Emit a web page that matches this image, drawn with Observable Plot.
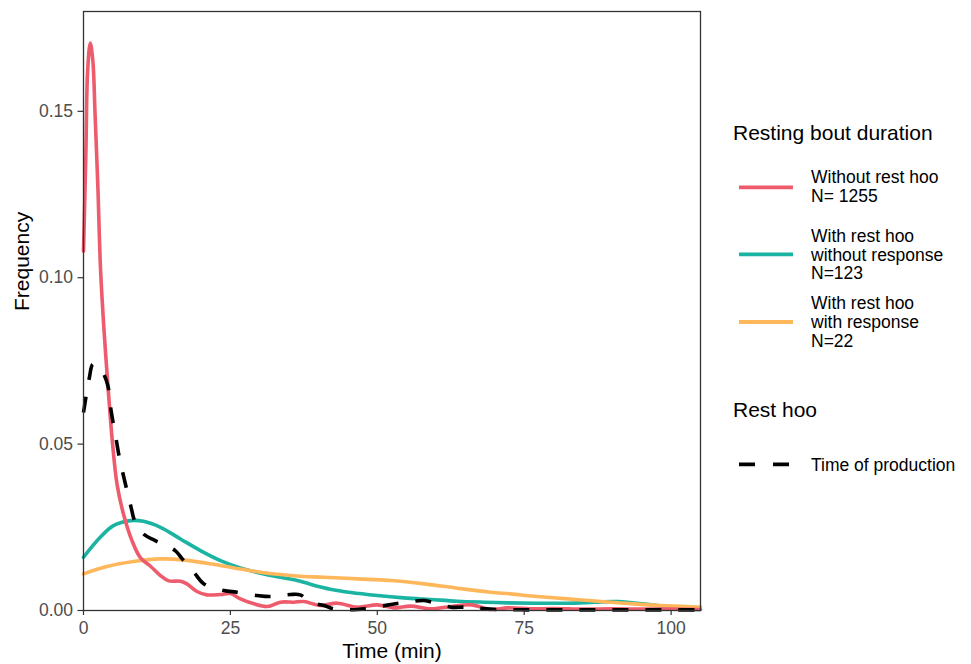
<!DOCTYPE html>
<html>
<head>
<meta charset="utf-8">
<script src="https://cdn.jsdelivr.net/npm/d3@7"></script>
<script src="https://cdn.jsdelivr.net/npm/@observablehq/plot@0.6"></script>
<style>
  body { margin: 0; background: #fff; }
  #wrap { position: relative; width: 971px; height: 664px; font-family: "Liberation Sans", Arial, sans-serif; }
  #legend { position: absolute; left: 0; top: 0; pointer-events: none; }
</style>
</head>
<body>
<div id="wrap"></div>
<script>
// ---- Data ----
const seriesNames = ["Without rest hoo\nN= 1255", "With rest hoo\nwithout response\nN=123", "With rest hoo\nwith response\nN=22"];
const seriesColors = ["#EE5B6C", "#1BB3A2", "#FFB75C"];
const restHooName = "Time of production";

const redT = [0, 0.4, 0.7, 1.15, 1.6, 1.95, 2.45, 2.9, 3.5, 4.1, 4.9, 5.7, 6.8, 8.25, 9.7, 11.4, 13.1, 14.5, 16.5, 17.6, 19.3, 21.0, 23.3, 25.0, 26.7, 29, 31.3, 33.5, 35.8, 37.5, 40.3, 43.2, 46.6, 50, 52.8, 55.7, 59.1, 62.5, 66, 69.3, 72.2, 76, 80, 85, 90, 95, 100, 105];
const redV = [0.108, 0.137, 0.162, 0.1705, 0.165, 0.150, 0.127, 0.1026, 0.084, 0.069, 0.051, 0.038, 0.029, 0.021, 0.0158, 0.0133, 0.0105, 0.0089, 0.0088, 0.008, 0.0057, 0.0047, 0.0048, 0.0051, 0.0035, 0.002, 0.0012, 0.0025, 0.0025, 0.0027, 0.0015, 0.0022, 0.001, 0.0017, 0.0008, 0.0013, 0.0005, 0.0012, 0.0017, 0.0003, 0.0008, 0.0005, 0.0006, 0.0004, 0.0005, 0.0004, 0.0004, 0.0003];

const tealT = [0, 2.85, 5.1, 8, 10.2, 13.1, 16.5, 19.9, 23.3, 26.7, 30.1, 33.5, 36.9, 38.6, 42, 45.5, 50, 54.5, 59.1, 63.6, 68.2, 72.2, 77, 82.4, 87, 90.9, 96.6, 102.3, 105];
const tealV = [0.016, 0.022, 0.0255, 0.027, 0.0268, 0.025, 0.0215, 0.018, 0.015, 0.0128, 0.0112, 0.0100, 0.0088, 0.0079, 0.0064, 0.0054, 0.0045, 0.0038, 0.0033, 0.0028, 0.0025, 0.0023, 0.0022, 0.0022, 0.0025, 0.0027, 0.0017, 0.0005, 0.0003];

const orangeT = [0, 4, 8.5, 13.1, 16.5, 21, 25.6, 30.1, 33.5, 36.9, 40.9, 46.6, 52.3, 58, 63.6, 69.3, 72.7, 76.7, 82.4, 88.1, 93.7, 99.4, 105];
const orangeV = [0.011, 0.0132, 0.0147, 0.0155, 0.0153, 0.0142, 0.0128, 0.0115, 0.0108, 0.0103, 0.010, 0.0095, 0.009, 0.008, 0.0067, 0.0055, 0.005, 0.0043, 0.0035, 0.0027, 0.002, 0.0014, 0.001];

const hooT = [0, 1.0, 1.6, 2.4, 3.3, 4.15, 4.7, 5.6, 6.1, 7.0, 8.1, 8.7, 10.2, 12.2, 13.4, 15.6, 16.8, 19.0, 20.5, 23.9, 26.1, 29.6, 31.8, 35.2, 36.9, 38.6, 40.9, 42.6, 46.6, 48.9, 52.3, 54.5, 58, 59.7, 62.5, 64.8, 67, 70.5, 75, 80, 85, 90, 95, 100, 105];
const hooV = [0.0595, 0.070, 0.074, 0.0735, 0.0715, 0.0675, 0.060, 0.051, 0.046, 0.039, 0.031, 0.027, 0.023, 0.021, 0.020, 0.018, 0.0155, 0.011, 0.008, 0.006, 0.0055, 0.0045, 0.0042, 0.0048, 0.0047, 0.0025, 0.0015, 0.0005, 0.0003, 0.0008, 0.0018, 0.0024, 0.003, 0.0023, 0.001, 0.001, 0.0007, 0.0003, 0.0002, 0.0002, 0.0002, 0.0002, 0.0002, 0.0002, 0.0002];

const xTicks = [0, 25, 50, 75, 100];
const yTicks = [0, 0.05, 0.10, 0.15];

// ---- Build tables ----
const toRows = (T, V) => T.map((t, i) => ({t, v: V[i]}));
const red = toRows(redT, redV);
const teal = toRows(tealT, tealV);
const orange = toRows(orangeT, orangeV);
const hoo = toRows(hooT, hooV);

const FONT = '"Liberation Sans", Arial, sans-serif';
const LW = 3.6;

const chart = Plot.plot({
  width: 971,
  height: 664,
  marginLeft: 83,
  marginRight: 271,
  marginTop: 11,
  marginBottom: 54,
  style: {fontFamily: FONT, fontSize: "17.5px", background: "#fff", overflow: "visible"},
  x: {domain: [0, 105]},
  y: {domain: [0, 0.18]},
  marks: [
    Plot.lineY(teal, {x: "t", y: "v", stroke: seriesColors[1], strokeWidth: LW, curve: "catmull-rom"}),
    Plot.lineY(orange, {x: "t", y: "v", stroke: seriesColors[2], strokeWidth: LW, curve: "catmull-rom"}),
    Plot.lineY(red, {x: "t", y: "v", stroke: seriesColors[0], strokeWidth: LW, curve: "catmull-rom"}),
    Plot.lineY(hoo, {x: "t", y: "v", stroke: "#000", strokeWidth: LW, strokeDasharray: "16,17", strokeLinecap: "butt", curve: "catmull-rom"}),
    Plot.frame({stroke: "#333", strokeWidth: 1.3}),
    Plot.axisX({ticks: xTicks, tickSize: 5, tickPadding: 6, stroke: "#333", strokeWidth: 1.2, fill: "#4D4D4D", label: null}),
    Plot.axisY({ticks: yTicks, tickSize: 5.5, tickPadding: 5, tickFormat: d3.format(".2f"), stroke: "#333", strokeWidth: 1.2, fill: "#4D4D4D", label: null}),
    Plot.text(["Time (min)"], {frameAnchor: "bottom", lineAnchor: "middle", dy: 41, fontSize: 21, fill: "#000", text: d => d}),
    Plot.text(["Frequency"], {frameAnchor: "left", lineAnchor: "middle", dx: -61, rotate: -90, fontSize: 21, fill: "#000", text: d => d})
  ]
});

const wrap = document.getElementById("wrap");
wrap.appendChild(chart);

// ---- Legend ----
const svg = d3.select(wrap).append("svg")
  .attr("id", "legend").attr("width", 971).attr("height", 664)
  .style("font-family", FONT);

svg.append("text").attr("x", 733).attr("y", 140).attr("font-size", 21).attr("fill", "#000").text("Resting bout duration");

const swatchY = [187.3, 254.3, 322];
const labelBase = [183, 241.7, 309];
seriesNames.forEach((name, i) => {
  svg.append("line").attr("x1", 739).attr("x2", 793).attr("y1", swatchY[i]).attr("y2", swatchY[i])
    .attr("stroke", seriesColors[i]).attr("stroke-width", 3.8);
  name.split("\n").forEach((line, j) => {
    svg.append("text").attr("x", 811).attr("y", labelBase[i] + j * 18.8)
      .attr("font-size", 17.5).attr("fill", "#000").text(line);
  });
});

svg.append("text").attr("x", 733).attr("y", 416.7).attr("font-size", 21).attr("fill", "#000").text("Rest hoo");
svg.append("line").attr("x1", 739).attr("x2", 793).attr("y1", 464.3).attr("y2", 464.3)
  .attr("stroke", "#000").attr("stroke-width", 3.8).attr("stroke-dasharray", "16,18");
svg.append("text").attr("x", 811).attr("y", 470.7).attr("font-size", 17.5).attr("fill", "#000").text(restHooName);
</script>
</body>
</html>
